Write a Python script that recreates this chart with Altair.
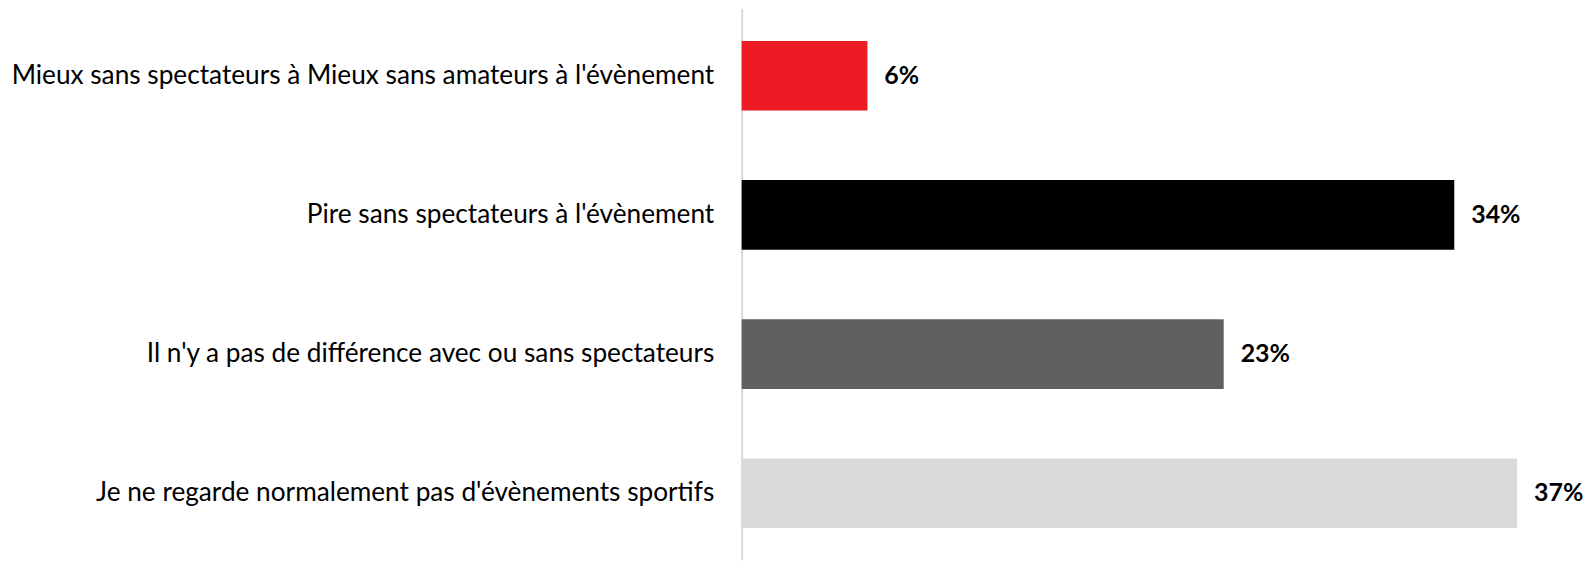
import altair as alt
import pandas as pd

categories = [
    "Mieux sans spectateurs à Mieux sans amateurs à l'évènement",
    "Pire sans spectateurs à l'évènement",
    "Il n'y a pas de différence avec ou sans spectateurs",
    "Je ne regarde normalement pas d'évènements sportifs",
]
values = [6, 34, 23, 37]
colors = ["#ED1C24", "#000000", "#606060", "#D9D9D9"]
labels = [f"{v}%" for v in values]

df = pd.DataFrame({"cat": categories, "val": values, "color": colors, "label": labels})

FONT = "Lato"

y = alt.Y(
    "cat:N",
    sort=categories,
    title=None,
    scale=alt.Scale(paddingInner=0.5, paddingOuter=0.23),
    axis=alt.Axis(
        domain=True,
        domainColor="#D9D9D9",
        domainWidth=2,
        ticks=False,
        grid=False,
        labelFont=FONT,
        labelFontSize=26.3,
        labelColor="#000000",
        labelPadding=28,
        labelLimit=900,
    ),
)
x = alt.X("val:Q", title=None, scale=alt.Scale(domain=[0, 40]), axis=None)

bars = alt.Chart(df).mark_bar().encode(
    x=x, y=y, color=alt.Color("color:N", scale=None, legend=None)
)
text = alt.Chart(df).mark_text(
    align="left", baseline="middle", dx=17, font=FONT, fontSize=25, fontWeight="bold", color="#000000"
).encode(x=x, y=y, text="label:N")

chart = (
    alt.layer(bars, text)
    .properties(
        width=841,
        height=553,
        autosize=alt.AutoSizeParams(type="none"),
        padding={"left": 736, "top": 0, "right": 5, "bottom": 0},
        view=alt.ViewBackground(strokeWidth=0, stroke="#FFFFFF"),
    )
    .configure_view(strokeWidth=0, stroke="#FFFFFF")
    .configure_axis(grid=False)
    .configure(background="#FFFFFF")
)

chart.save("out.html", embed_options={"renderer": "svg", "actions": False})
